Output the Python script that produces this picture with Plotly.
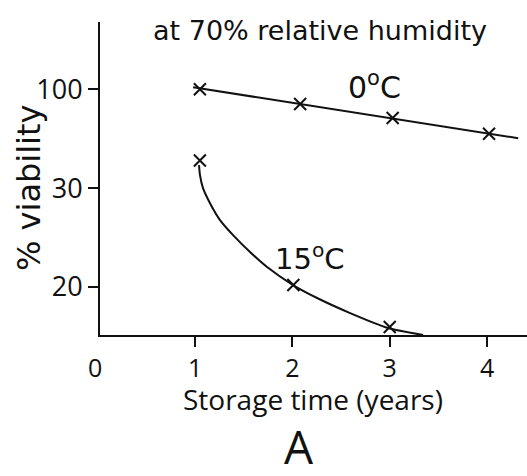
import plotly.graph_objects as go

# ---- data (y values are in schematic axis units) ----
y_tick_pos = [1, 2, 3]
y_tick_labels = ["20", "30", "100"]
x_tick_vals = [1, 2, 3, 4]
x_tick_labels = ["1", "2", "3", "4"]

t0_marker_x = [1.05, 2.08, 3.03, 4.02]
t0_marker_y = [3.00, 2.85, 2.71, 2.55]
t0_line_x = [0.98, 4.32]
t0_line_y = [3.02, 2.505]

t15_marker_x = [1.05, 2.01, 3.00]
t15_marker_y = [2.28, 1.02, 0.596]
t15_curve_x = [1.041, 1.051, 1.082, 1.154, 1.257, 1.391, 1.565, 1.740, 2.007, 2.254, 2.593, 2.983, 3.343]
t15_curve_y = [2.232, 2.131, 2.000, 1.848, 1.677, 1.525, 1.354, 1.202, 1.020, 0.889, 0.737, 0.586, 0.515]

FONT = "Open Sans"
WIDE = "DejaVu Sans"
BLACK = "#111111"

fig = go.Figure()

fig.add_trace(go.Scatter(x=t0_line_x, y=t0_line_y, mode="lines",
                         line=dict(color=BLACK, width=2), hoverinfo="skip"))
fig.add_trace(go.Scatter(x=t0_marker_x, y=t0_marker_y, mode="markers",
                         marker=dict(symbol="x-thin", size=12, line=dict(color=BLACK, width=2))))
fig.add_trace(go.Scatter(x=t15_curve_x, y=t15_curve_y, mode="lines",
                         line=dict(color=BLACK, width=2, shape="spline", smoothing=0.6),
                         hoverinfo="skip"))
fig.add_trace(go.Scatter(x=t15_marker_x, y=t15_marker_y, mode="markers",
                         marker=dict(symbol="x-thin", size=12, line=dict(color=BLACK, width=2))))

fig.update_layout(
    width=527, height=476,
    margin=dict(l=100, r=0, t=22, b=141),
    paper_bgcolor="white", plot_bgcolor="white",
    showlegend=False,
    font=dict(family=FONT, color=BLACK),
    xaxis=dict(range=[0.024, 4.41], tickvals=x_tick_vals, ticktext=x_tick_labels,
               ticks="outside", ticklen=10, tickwidth=2, tickcolor=BLACK, automargin=False,
               showline=True, linecolor=BLACK, linewidth=2, showgrid=False, zeroline=False,
               tickfont=dict(size=25, family=FONT)),
    yaxis=dict(range=[0.515, 3.68], tickvals=y_tick_pos, ticktext=y_tick_labels,
               ticks="outside", ticklen=10, tickwidth=2, tickcolor=BLACK, automargin=False,
               showline=True, linecolor=BLACK, linewidth=2, showgrid=False, zeroline=False,
               tickfont=dict(size=27, family=FONT)),
)

annos = [
    dict(text="at 70% relative humidity", x=320, y=30, size=27, fam=WIDE, ang=0),
    dict(text="0<sup>o</sup>C", x=374, y=85, size=30, fam=WIDE, ang=0),
    dict(text="15<sup>o</sup>C", x=310, y=257, size=29, fam=WIDE, ang=0),
    dict(text="A", x=299, y=446, size=46, fam=FONT, ang=0),
    dict(text="0", x=95, y=367, size=25, fam=FONT, ang=0),
    dict(text="Storage time (years)", x=313, y=399, size=28, fam=FONT, ang=0),
    dict(text="% viability", x=29, y=188, size=32, fam=WIDE, ang=-90),
]
for a in annos:
    fig.add_annotation(text=a["text"], xref="paper", yref="paper",
                       x=(a["x"] - 100) / 427, y=1 - (a["y"] - 22) / 313,
                       xanchor="center", yanchor="middle", showarrow=False, textangle=a["ang"],
                       font=dict(size=a["size"], family=a["fam"], color=BLACK))

fig.write_html("out.html", config={"displayModeBar": False},
               post_script="document.body.style.margin='0';document.body.style.overflow='hidden';")
